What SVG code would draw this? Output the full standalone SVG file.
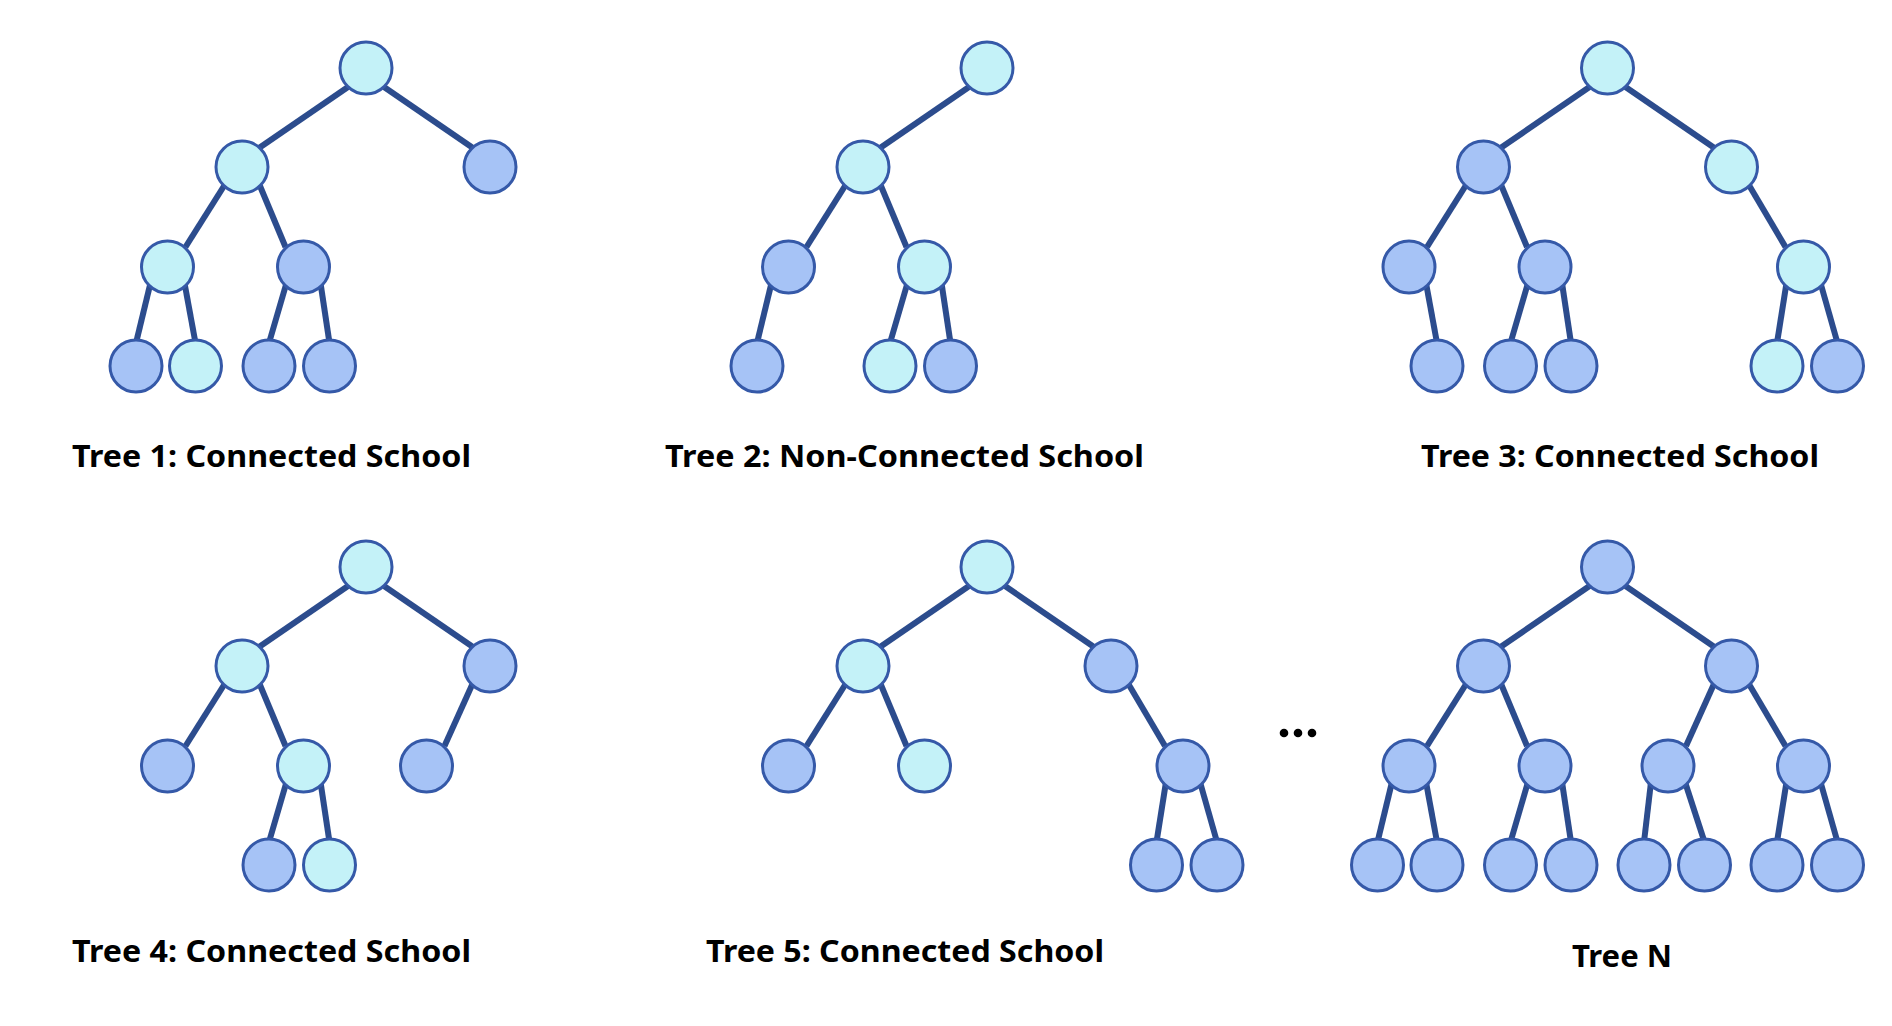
<svg xmlns="http://www.w3.org/2000/svg" width="1892" height="1026" viewBox="0 0 1892 1026">
<style>
.e{stroke:#2c4c8d;stroke-width:6;fill:none;stroke-linecap:butt}
.c{fill:#c4f2f8;stroke:#3559a8;stroke-width:3}
.b{fill:#a6c3f6;stroke:#3559a8;stroke-width:3}
.lbl{font-family:"Noto Sans","Liberation Sans",Arial,sans-serif;font-weight:bold;font-size:30px;fill:#000}
</style>
<rect width="1892" height="1026" fill="#fff"/>
<g id="connectors">
<!-- Tree 1 -->
<line class="e" x1="348" y1="87" x2="259" y2="148"/>
<line class="e" x1="384" y1="87" x2="473" y2="148"/>
<line class="e" x1="224" y1="186" x2="185.5" y2="247"/>
<line class="e" x1="260" y1="186" x2="285.5" y2="247"/>
<line class="e" x1="150.5" y1="283" x2="136" y2="343"/>
<line class="e" x1="184.5" y1="283" x2="195.5" y2="343"/>
<line class="e" x1="286.5" y1="283" x2="269" y2="343"/>
<line class="e" x1="320.5" y1="283" x2="329.5" y2="343"/>
<!-- Tree 2 -->
<line class="e" x1="969" y1="87" x2="880" y2="148"/>
<line class="e" x1="845" y1="186" x2="806.5" y2="247"/>
<line class="e" x1="881" y1="186" x2="906.5" y2="247"/>
<line class="e" x1="771.5" y1="283" x2="757" y2="343"/>
<line class="e" x1="907.5" y1="283" x2="890" y2="343"/>
<line class="e" x1="941.5" y1="283" x2="950.5" y2="343"/>
<!-- Tree 3 -->
<line class="e" x1="1589.5" y1="87" x2="1500.5" y2="148"/>
<line class="e" x1="1625.5" y1="87" x2="1714.5" y2="148"/>
<line class="e" x1="1465.5" y1="186" x2="1427" y2="247"/>
<line class="e" x1="1501.5" y1="186" x2="1527" y2="247"/>
<line class="e" x1="1749.5" y1="186" x2="1785.5" y2="247"/>
<line class="e" x1="1426" y1="283" x2="1437" y2="343"/>
<line class="e" x1="1528" y1="283" x2="1510.5" y2="343"/>
<line class="e" x1="1562" y1="283" x2="1571" y2="343"/>
<line class="e" x1="1786.5" y1="283" x2="1777" y2="343"/>
<line class="e" x1="1820.5" y1="283" x2="1837.5" y2="343"/>
<!-- Tree 4 -->
<line class="e" x1="348" y1="586" x2="259" y2="647"/>
<line class="e" x1="384" y1="586" x2="473" y2="647"/>
<line class="e" x1="224" y1="685" x2="185.5" y2="746"/>
<line class="e" x1="260" y1="685" x2="285.5" y2="746"/>
<line class="e" x1="472" y1="685" x2="444.5" y2="746"/>
<line class="e" x1="286.5" y1="782" x2="269" y2="842"/>
<line class="e" x1="320.5" y1="782" x2="329.5" y2="842"/>
<!-- Tree 5 -->
<line class="e" x1="969" y1="586" x2="880" y2="647"/>
<line class="e" x1="1005" y1="586" x2="1094" y2="647"/>
<line class="e" x1="845" y1="685" x2="806.5" y2="746"/>
<line class="e" x1="881" y1="685" x2="906.5" y2="746"/>
<line class="e" x1="1129" y1="685" x2="1165" y2="746"/>
<line class="e" x1="1166" y1="782" x2="1156.5" y2="842"/>
<line class="e" x1="1200" y1="782" x2="1217" y2="842"/>
<!-- Tree N -->
<line class="e" x1="1589.5" y1="586" x2="1500.5" y2="647"/>
<line class="e" x1="1625.5" y1="586" x2="1714.5" y2="647"/>
<line class="e" x1="1465.5" y1="685" x2="1427" y2="746"/>
<line class="e" x1="1501.5" y1="685" x2="1527" y2="746"/>
<line class="e" x1="1713.5" y1="685" x2="1686" y2="746"/>
<line class="e" x1="1749.5" y1="685" x2="1785.5" y2="746"/>
<line class="e" x1="1392" y1="782" x2="1377.5" y2="842"/>
<line class="e" x1="1426" y1="782" x2="1437" y2="842"/>
<line class="e" x1="1528" y1="782" x2="1510.5" y2="842"/>
<line class="e" x1="1562" y1="782" x2="1571" y2="842"/>
<line class="e" x1="1651" y1="782" x2="1644" y2="842"/>
<line class="e" x1="1685" y1="782" x2="1704.5" y2="842"/>
<line class="e" x1="1786.5" y1="782" x2="1777" y2="842"/>
<line class="e" x1="1820.5" y1="782" x2="1837.5" y2="842"/>
</g>
<g id="tree1">
<circle class="c" cx="366" cy="68" r="26"/>
<circle class="c" cx="242" cy="167" r="26"/>
<circle class="b" cx="490" cy="167" r="26"/>
<circle class="c" cx="167.5" cy="267" r="26"/>
<circle class="b" cx="303.5" cy="267" r="26"/>
<circle class="b" cx="136" cy="366" r="26"/>
<circle class="c" cx="195.5" cy="366" r="26"/>
<circle class="b" cx="269" cy="366" r="26"/>
<circle class="b" cx="329.5" cy="366" r="26"/>
<text class="lbl" x="72" y="467" textLength="399" lengthAdjust="spacingAndGlyphs">Tree 1: Connected School</text>
</g>
<g id="tree2">
<circle class="c" cx="987" cy="68" r="26"/>
<circle class="c" cx="863" cy="167" r="26"/>
<circle class="b" cx="788.5" cy="267" r="26"/>
<circle class="c" cx="924.5" cy="267" r="26"/>
<circle class="b" cx="757" cy="366" r="26"/>
<circle class="c" cx="890" cy="366" r="26"/>
<circle class="b" cx="950.5" cy="366" r="26"/>
<text class="lbl" x="665" y="467" textLength="479" lengthAdjust="spacingAndGlyphs">Tree 2: Non-Connected School</text>
</g>
<g id="tree3">
<circle class="c" cx="1607.5" cy="68" r="26"/>
<circle class="b" cx="1483.5" cy="167" r="26"/>
<circle class="c" cx="1731.5" cy="167" r="26"/>
<circle class="b" cx="1409" cy="267" r="26"/>
<circle class="b" cx="1545" cy="267" r="26"/>
<circle class="c" cx="1803.5" cy="267" r="26"/>
<circle class="b" cx="1437" cy="366" r="26"/>
<circle class="b" cx="1510.5" cy="366" r="26"/>
<circle class="b" cx="1571" cy="366" r="26"/>
<circle class="c" cx="1777" cy="366" r="26"/>
<circle class="b" cx="1837.5" cy="366" r="26"/>
<text class="lbl" x="1421" y="467" textLength="398" lengthAdjust="spacingAndGlyphs">Tree 3: Connected School</text>
</g>
<g id="tree4">
<circle class="c" cx="366" cy="567" r="26"/>
<circle class="c" cx="242" cy="666" r="26"/>
<circle class="b" cx="490" cy="666" r="26"/>
<circle class="b" cx="167.5" cy="766" r="26"/>
<circle class="c" cx="303.5" cy="766" r="26"/>
<circle class="b" cx="426.5" cy="766" r="26"/>
<circle class="b" cx="269" cy="865" r="26"/>
<circle class="c" cx="329.5" cy="865" r="26"/>
<text class="lbl" x="72" y="962" textLength="399" lengthAdjust="spacingAndGlyphs">Tree 4: Connected School</text>
</g>
<g id="tree5">
<circle class="c" cx="987" cy="567" r="26"/>
<circle class="c" cx="863" cy="666" r="26"/>
<circle class="b" cx="1111" cy="666" r="26"/>
<circle class="b" cx="788.5" cy="766" r="26"/>
<circle class="c" cx="924.5" cy="766" r="26"/>
<circle class="b" cx="1183" cy="766" r="26"/>
<circle class="b" cx="1156.5" cy="865" r="26"/>
<circle class="b" cx="1217" cy="865" r="26"/>
<text class="lbl" x="706" y="962" textLength="398" lengthAdjust="spacingAndGlyphs">Tree 5: Connected School</text>
</g>
<g id="ellipsis">
<circle cx="1284" cy="733" r="4.3" fill="#000"/>
<circle cx="1298" cy="733" r="4.3" fill="#000"/>
<circle cx="1312" cy="733" r="4.3" fill="#000"/>
</g>
<g id="treeN">
<circle class="b" cx="1607.5" cy="567" r="26"/>
<circle class="b" cx="1483.5" cy="666" r="26"/>
<circle class="b" cx="1731.5" cy="666" r="26"/>
<circle class="b" cx="1409" cy="766" r="26"/>
<circle class="b" cx="1545" cy="766" r="26"/>
<circle class="b" cx="1668" cy="766" r="26"/>
<circle class="b" cx="1803.5" cy="766" r="26"/>
<circle class="b" cx="1377.5" cy="865" r="26"/>
<circle class="b" cx="1437" cy="865" r="26"/>
<circle class="b" cx="1510.5" cy="865" r="26"/>
<circle class="b" cx="1571" cy="865" r="26"/>
<circle class="b" cx="1644" cy="865" r="26"/>
<circle class="b" cx="1704.5" cy="865" r="26"/>
<circle class="b" cx="1777" cy="865" r="26"/>
<circle class="b" cx="1837.5" cy="865" r="26"/>
<text class="lbl" x="1572" y="967" textLength="100" lengthAdjust="spacingAndGlyphs">Tree N</text>
</g>
</svg>
